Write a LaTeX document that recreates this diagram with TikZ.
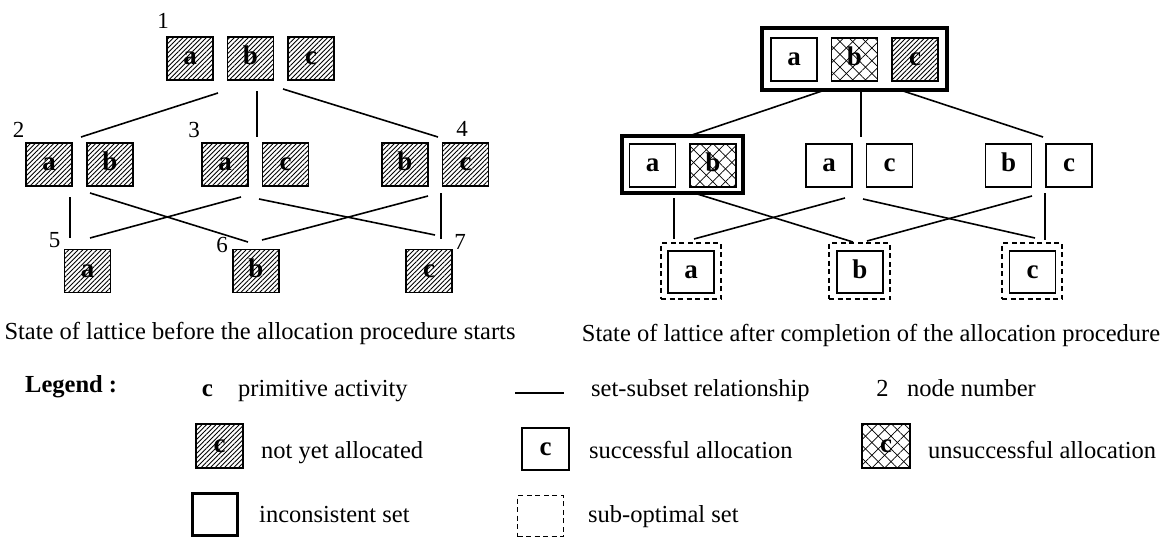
\documentclass[tikz,border=0pt]{standalone}
\usepackage{fontspec}
\setmainfont{Liberation Serif}
\usetikzlibrary{patterns.meta,fit}
\tikzset{
  lbl/.style={font=\fontsize{27}{29}\selectfont\bfseries, text height=12pt, text depth=0pt},
  box/.style={draw, line width=1.3pt, minimum width=46pt, minimum height=43pt, inner sep=0pt, lbl},
  hatchpat/.style={pattern={Lines[angle=45,distance=3.3pt,line width=0.9pt]}},
  crosspat/.style={pattern={Lines[angle=45,distance=9pt,line width=0.7pt]},
     postaction={pattern={Lines[angle=-45,distance=9pt,line width=0.7pt]}}},
  hatch/.style={box, hatchpat},
  rbox/.style={draw, line width=1.5pt, minimum width=46pt, minimum height=43pt, inner sep=0pt, lbl},
  rhatch/.style={rbox, hatchpat},
  rcross/.style={rbox, crosspat},
  thickset/.style={draw, line width=3.5pt, inner sep=0pt},
  subopt/.style={draw, line width=1.6pt, dash pattern=on 5pt off 3.5pt, inner sep=0pt},
  group/.style={inner sep=0pt},
  num/.style={font=\fontsize{23}{25}\selectfont, inner sep=0pt},
  txt/.style={font=\fontsize{24.5}{27}\selectfont, inner sep=0pt, anchor=base west},
  link/.style={line width=1.6pt},
}
\begin{document}
\begin{tikzpicture}[x=1pt,y=-1pt]
\useasboundingbox (0,0) rectangle (1163,538);
% ---------- left lattice ----------
\node[hatch] (L1a) at (190,58.5) {a};
\node[hatch] (L1b) at (250.5,58.5) {b};
\node[hatch] (L1c) at (311,58.5) {c};
\node[hatch] (L2a) at (49,164.5) {a};
\node[hatch] (L2b) at (110,164.5) {b};
\node[hatch] (L3a) at (225,164.5) {a};
\node[hatch] (L3c) at (285.5,164.5) {c};
\node[hatch] (L4b) at (405,164.5) {b};
\node[hatch] (L4c) at (465.5,164.5) {c};
\node[hatch] (L5a) at (87.5,271) {a};
\node[hatch] (L6b) at (256,271) {b};
\node[hatch] (L7c) at (429,271) {c};
\node[group, fit=(L1a)(L1c)] (L1) {};
\node[group, fit=(L2a)(L2b)] (L2) {};
\node[group, fit=(L3a)(L3c)] (L3) {};
\node[group, fit=(L4b)(L4c)] (L4) {};
\node[num] (n1) at (163,20.5) {1};
\node[num] (n2) at (18.5,130) {2};
\node[num] (n3) at (194,130) {3};
\node[num] (n4) at (462,129) {4};
\node[num] (n5) at (54.5,240) {5};
\node[num] (n6) at (222,244.5) {6};
\node[num] (n7) at (460,242) {7};
\coordinate (l12s) at (218,93);  \coordinate (l12e) at (81,137);
\coordinate (l13s) at (257,91);  \coordinate (l13e) at (257,137);
\coordinate (l14s) at (283,89);  \coordinate (l14e) at (438,137);
\coordinate (l25s) at (70,197);  \coordinate (l25e) at (70,238);
\coordinate (l26s) at (90,193);  \coordinate (l26e) at (248,242);
\coordinate (l35s) at (241,197); \coordinate (l35e) at (90,238);
\coordinate (l37s) at (259,199); \coordinate (l37e) at (435,235);
\coordinate (l46s) at (428,196); \coordinate (l46e) at (262,240);
\coordinate (l47s) at (441,193); \coordinate (l47e) at (441,239);
\draw[link] (l12s) -- (l12e);
\draw[link] (l13s) -- (l13e);
\draw[link] (l14s) -- (l14e);
\draw[link] (l25s) -- (l25e);
\draw[link] (l26s) -- (l26e);
\draw[link] (l35s) -- (l35e);
\draw[link] (l37s) -- (l37e);
\draw[link] (l46s) -- (l46e);
\draw[link] (l47s) -- (l47e);
\node[font=\fontsize{24.5}{27}\selectfont, inner sep=0pt, anchor=base] (capL) at (260,339) {State of lattice before the allocation procedure starts};
% ---------- right lattice ----------
\node[rbox] (R1a) at (794,59.5) {a};
\node[rcross] (R1b) at (854.5,59.5) {b};
\node[rhatch] (R1c) at (915,59.5) {c};
\node[thickset, minimum width=185pt, minimum height=62pt] (R1) at (854.5,59) {};
\node[rbox] (R2a) at (652.5,165.5) {a};
\node[rcross] (R2b) at (713,165.5) {b};
\node[thickset, minimum width=121pt, minimum height=57pt] (R2) at (682.5,164.5) {};
\node[rbox] (R3a) at (829,165.5) {a};
\node[rbox] (R3c) at (889.5,165.5) {c};
\node[group, fit=(R3a)(R3c)] (R3) {};
\node[rbox] (R4b) at (1008.5,165.5) {b};
\node[rbox] (R4c) at (1069,165.5) {c};
\node[group, fit=(R4b)(R4c)] (R4) {};
\node[rbox, minimum height=42pt] (R5a) at (691,272) {a};
\node[subopt, minimum width=60pt, minimum height=56pt] (R5) at (691,271) {};
\node[rbox, minimum height=42pt] (R6b) at (860,272) {b};
\node[subopt, minimum width=61pt, minimum height=56pt] (R6) at (859.5,271) {};
\node[rbox, minimum height=42pt] (R7c) at (1032.5,272) {c};
\node[subopt, minimum width=60pt, minimum height=56pt] (R7) at (1032,271) {};
\coordinate (r12s) at (825,90);  \coordinate (r12e) at (686,137);
\coordinate (r13s) at (861,90);  \coordinate (r13e) at (861,137);
\coordinate (r14s) at (897,89);  \coordinate (r14e) at (1043,137);
\coordinate (r25s) at (674,198); \coordinate (r25e) at (674,239);
\coordinate (r26s) at (694,193); \coordinate (r26e) at (853,242);
\coordinate (r35s) at (845,198); \coordinate (r35e) at (694,239);
\coordinate (r37s) at (863,199); \coordinate (r37e) at (1035,238);
\coordinate (r46s) at (1032,196); \coordinate (r46e) at (867,241);
\coordinate (r47s) at (1045,193); \coordinate (r47e) at (1045,240);
\draw[link] (r12s) -- (r12e);
\draw[link] (r13s) -- (r13e);
\draw[link] (r14s) -- (r14e);
\draw[link] (r25s) -- (r25e);
\draw[link] (r26s) -- (r26e);
\draw[link] (r35s) -- (r35e);
\draw[link] (r37s) -- (r37e);
\draw[link] (r46s) -- (r46e);
\draw[link] (r47s) -- (r47e);
\node[font=\fontsize{24.5}{27}\selectfont, inner sep=0pt, anchor=base] (capR) at (871,341) {State of lattice after completion of the allocation procedure};
% ---------- legend ----------
\node[font=\fontsize{24.5}{27}\selectfont\bfseries, inner sep=0pt, anchor=base west] (leg) at (25,392) {Legend :};
\node[font=\fontsize{25}{27}\selectfont\bfseries, inner sep=0pt, anchor=base] (legc) at (207.5,396) {c};
\node[txt] (legct) at (238,396) {primitive activity};
\coordinate (lgls) at (515,393); \coordinate (lgle) at (564,393);
\draw[line width=1.4pt] (lgls) -- (lgle);
\node[txt] (legst) at (591,396) {set-subset relationship};
\node[font=\fontsize{24.5}{27}\selectfont, inner sep=0pt, anchor=base] (leg2) at (882.5,396) {2};
\node[txt] (legnt) at (907,396) {node number};
\node[draw, line width=1.3pt, minimum width=47pt, minimum height=44pt, inner sep=0pt, lbl, hatchpat] (legh) at (219.5,446) {c};
\node[txt] (leght) at (261,458) {not yet allocated};
\node[draw, line width=1.5pt, minimum width=47pt, minimum height=42pt, inner sep=0pt, lbl] (legs) at (545.5,449) {c};
\node[txt] (legsat) at (589,458) {successful allocation};
\node[draw, line width=1.5pt, minimum width=48pt, minimum height=44pt, inner sep=0pt, lbl, crosspat] (legx) at (886,446) {c};
\node[txt] (legxt) at (928,458) {unsuccessful allocation};
\node[thickset, minimum width=45pt, minimum height=42pt] (legi) at (215,514.5) {};
\node[txt] (legit) at (259,522) {inconsistent set};
\node[subopt, minimum width=46pt, minimum height=41pt] (lego) at (540.5,516) {};
\node[txt] (legot) at (588,522) {sub-optimal set};
\end{tikzpicture}
\end{document}
